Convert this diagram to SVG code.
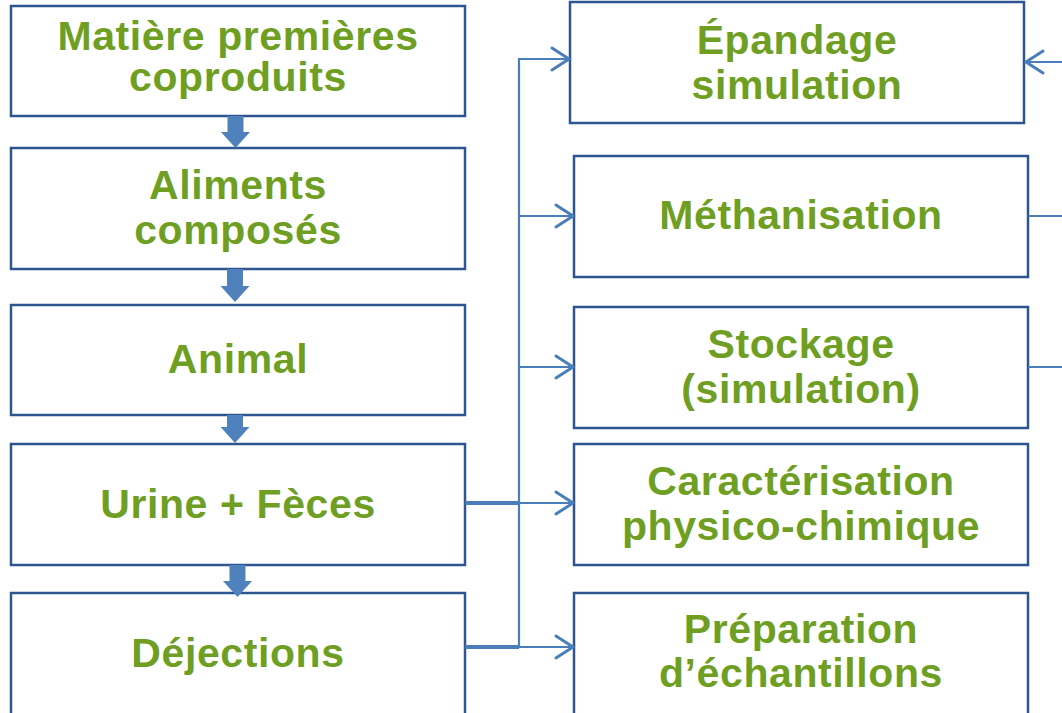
<svg xmlns="http://www.w3.org/2000/svg" width="1062" height="713" viewBox="0 0 1062 713">
<defs>
<style>
.box{fill:#fff;stroke:#2d5590;stroke-width:2.5}
.t{font-family:"Liberation Sans",Arial,sans-serif;font-weight:bold;font-size:41px;letter-spacing:0.6px;fill:#6f9f22;text-anchor:middle}
.c{fill:none;stroke:#4a7ebb;stroke-width:2.2}
.ct{fill:none;stroke:#4a7ebb;stroke-width:4}
.ah{fill:none;stroke:#4a7ebb;stroke-width:3;stroke-linecap:round;stroke-linejoin:miter}
.blk{fill:#4f81bd}
</style>
</defs>
<rect width="1062" height="713" fill="#fff"/>
<g id="n1"><rect class="box" x="11" y="6" width="454" height="110"/><text class="t" x="238" y="50">Matière premières</text><text class="t" x="238" y="91">coproduits</text></g>
<g id="n2"><rect class="box" x="11" y="148" width="454" height="121"/><text class="t" x="238" y="199">Aliments</text><text class="t" x="238" y="244">composés</text></g>
<g id="n3"><rect class="box" x="11" y="305" width="454" height="110"/><text class="t" x="238" y="373">Animal</text></g>
<g id="n4"><rect class="box" x="11" y="444" width="454" height="121"/><text class="t" x="238" y="518">Urine + Fèces</text></g>
<g id="n5"><rect class="box" x="11" y="593" width="454" height="130"/><text class="t" x="238" y="667">Déjections</text></g>
<g id="nA"><rect class="box" x="570" y="2" width="454" height="121"/><text class="t" x="797" y="54">Épandage</text><text class="t" x="797" y="99">simulation</text></g>
<g id="nB"><rect class="box" x="574" y="156" width="454" height="121"/><text class="t" x="801" y="229">Méthanisation</text></g>
<g id="nC"><rect class="box" x="574" y="307" width="454" height="121"/><text class="t" x="801" y="358">Stockage</text><text class="t" x="801" y="403">(simulation)</text></g>
<g id="nD"><rect class="box" x="574" y="444" width="454" height="121"/><text class="t" x="801" y="495">Caractérisation</text><text class="t" x="801" y="540">physico-chimique</text></g>
<g id="nE"><rect class="box" x="574" y="593" width="454" height="130"/><text class="t" x="801" y="643">Préparation</text><text class="t" x="801" y="687">d’échantillons</text></g>
<g id="connectors">
<path class="blk" d="M227.5 116 H243.5 V132 H250 L235.5 148 L221 132 H227.5 Z"/>
<path class="blk" d="M227 269 H243 V286 H249.5 L235 302 L220.5 286 H227 Z"/>
<path class="blk" d="M227 415 H243 V427 H249.5 L235 443 L220.5 427 H227 Z"/>
<path class="blk" d="M229.5 565 H245.5 V581 H252 L237.5 597 L223 581 H229.5 Z"/>
<path class="ct" d="M465 503 H519 M465 647 H519"/>
<path class="c" d="M519 647 V59 H569 M519 216 H573 M519 367 H573 M519 503 H573 M519 647 H573"/>
<path class="ah" d="M552 48 L569 59 L552 70 M556 205 L573 216 L556 227 M556 356 L573 367 L556 378 M556 492 L573 503 L556 514 M556 636 L573 647 L556 658"/>
<path class="c" d="M1062 62 H1026 M1028 216 H1062 M1028 367 H1062"/>
<path class="ah" d="M1043 51 L1026 62 L1043 73"/>
</g>
</svg>
